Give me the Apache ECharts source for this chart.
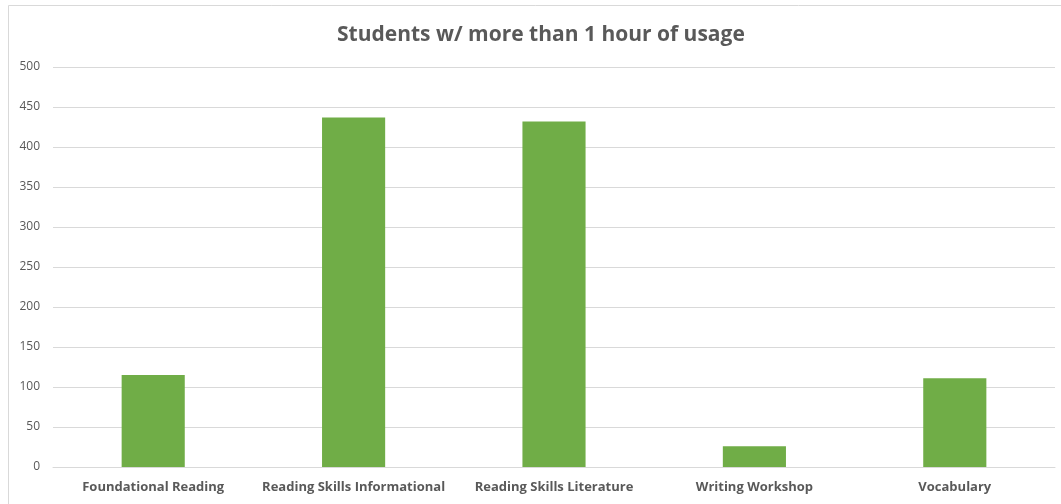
<!DOCTYPE html>
<html>
<head>
<meta charset="utf-8">
<script src="https://cdn.jsdelivr.net/npm/echarts@6/dist/echarts.min.js"></script>
<style>
  html, body { margin: 0; padding: 0; background: #ffffff; }
  #chart { width: 1061px; height: 504px; }
</style>
</head>
<body>
<div id="chart"></div>
<script>
// Course categories and the number of students with more than one hour of usage
const categories = [
  'Foundational Reading',
  'Reading Skills Informational',
  'Reading Skills Literature',
  'Writing Workshop',
  'Vocabulary'
];
const students = [115, 437, 432, 26, 111];
const titleText = 'Students w/ more than 1 hour of usage';

const chart = echarts.init(document.getElementById('chart'), null, { renderer: 'canvas' });

chart.setOption({
  backgroundColor: '#ffffff',
  animation: false,
  graphic: [{
    type: 'rect',
    shape: { x: 8.5, y: 5.5, width: 1070, height: 520 },
    style: { fill: 'none', stroke: '#d9d9d9', lineWidth: 1 },
    silent: true,
    z: -1
  }],
  title: {
    text: titleText,
    left: 332,
    top: 20,
    textStyle: {
      fontFamily: 'Open Sans',
      fontSize: 21,
      fontWeight: 'bold',
      color: '#595959'
    }
  },
  grid: { left: 53, right: 6, top: 67, bottom: 37 },
  xAxis: {
    type: 'category',
    data: categories,
    axisLine: { show: true, lineStyle: { color: '#d9d9d9' } },
    axisTick: { show: false },
    axisLabel: {
      interval: 0,
      margin: 14,
      fontFamily: 'Open Sans',
      fontSize: 13,
      fontWeight: 'bold',
      color: '#595959'
    }
  },
  yAxis: {
    type: 'value',
    min: 0,
    max: 500,
    interval: 50,
    axisLine: { show: false },
    axisTick: { show: false },
    splitLine: { lineStyle: { color: '#d9d9d9', width: 1 } },
    axisLabel: {
      margin: 13,
      fontFamily: 'Open Sans',
      fontSize: 12,
      color: '#595959'
    }
  },
  series: [{
    type: 'bar',
    data: students,
    barWidth: '31.5%',
    itemStyle: { color: '#70ad47' }
  }]
});
</script>
</body>
</html>
